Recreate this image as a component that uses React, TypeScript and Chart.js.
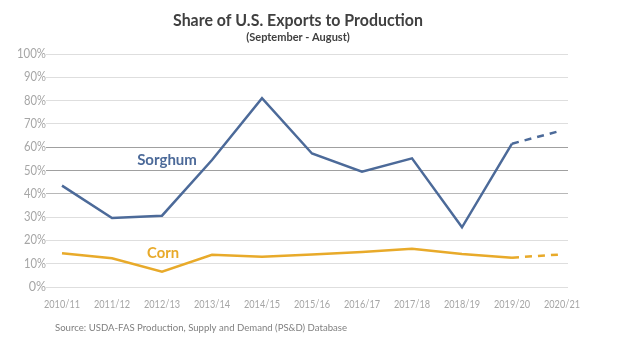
import React, { useEffect, useRef } from "react";
import { Chart, registerables } from "chart.js";

Chart.register(...registerables);

const categories = ["2010/11", "2011/12", "2012/13", "2013/14", "2014/15", "2015/16", "2016/17", "2017/18", "2018/19", "2019/20", "2020/21"];
const sorghum = [43.5, 29.6, 30.6, 54.5, 81.0, 57.3, 49.5, 55.2, 25.6, 61.5, 67.2];
const corn = [14.5, 12.3, 6.6, 13.8, 13.0, 13.9, 15.0, 16.4, 14.2, 12.6, 14.0];
const yTicks = [0, 10, 20, 30, 40, 50, 60, 70, 80, 90, 100];
const titleText = "Share of U.S. Exports to Production";
const subtitleText = "(September - August)";
const sourceText = "Source: USDA-FAS Production, Supply and Demand (PS&D) Database";
const FONT = "Lato, 'Open Sans', 'DejaVu Sans', sans-serif";

const SORGHUM_COLOR = "#4c6a99";
const CORN_COLOR = "#e8aa2a";
const TICK_COLOR = "#a6a6a6";

function drawFitted(ctx: CanvasRenderingContext2D, text: string, font: string, color: string, x: number, y: number, maxW: number, align: "center" | "left" | "right") {
  ctx.save();
  ctx.font = font;
  ctx.fillStyle = color;
  ctx.textBaseline = "middle";
  const w = ctx.measureText(text).width;
  const s = w > maxW ? maxW / w : 1;
  ctx.translate(x, y);
  ctx.scale(s, 1);
  ctx.textAlign = align;
  ctx.fillText(text, 0, 0);
  ctx.restore();
}

const textPlugin = {
  id: "textPlugin",
  afterDraw(chart: any) {
    const ctx = chart.ctx as CanvasRenderingContext2D;
    const xs = chart.scales.x;
    const ys = chart.scales.y;
    const area = chart.chartArea;
    drawFitted(ctx, titleText, `bold 17px ${FONT}`, "#404040", 298, 21, 250, "center");
    drawFitted(ctx, subtitleText, `bold 11px ${FONT}`, "#404040", 298, 37, 106, "center");
    drawFitted(ctx, sourceText, `10px ${FONT}`, "#7f7f7f", 55, 328, 292, "left");
    categories.forEach((c, i) => {
      drawFitted(ctx, c, `11px ${FONT}`, TICK_COLOR, xs.getPixelForValue(i), area.bottom + 17, 36, "center");
    });
    yTicks.forEach((v) => {
      drawFitted(ctx, `${v}%`, `12.5px ${FONT}`, TICK_COLOR, area.left, ys.getPixelForValue(v), v === 100 ? 29 : 22, "right");
    });
    drawFitted(ctx, "Sorghum", `bold 15px ${FONT}`, SORGHUM_COLOR, xs.getPixelForValue(2.1), ys.getPixelForValue(54.3), 60, "center");
    drawFitted(ctx, "Corn", `bold 15px ${FONT}`, CORN_COLOR, xs.getPixelForValue(2.02), ys.getPixelForValue(14.7), 32, "center");
  },
};

const dashLast = (ctx: any) => (ctx.p0DataIndex >= categories.length - 2 ? [7, 6] : undefined);

export default function App() {
  const ref = useRef<HTMLCanvasElement>(null);
  useEffect(() => {
    document.body.style.margin = "0";
    const chart = new Chart(ref.current!, {
      type: "line",
      data: {
        datasets: [
          {
            label: "Sorghum",
            data: sorghum.map((v, i) => ({ x: i, y: v })),
            borderColor: SORGHUM_COLOR,
            borderWidth: 2.5,
            pointRadius: 0,
            tension: 0,
            segment: { borderDash: dashLast },
          },
          {
            label: "Corn",
            data: corn.map((v, i) => ({ x: i, y: v })),
            borderColor: CORN_COLOR,
            borderWidth: 2.5,
            pointRadius: 0,
            tension: 0,
            segment: { borderDash: dashLast },
          },
        ],
      },
      options: {
        animation: false,
        responsive: false,
        layout: { padding: { left: 6, right: 49, top: 54, bottom: 39 } },
        plugins: { legend: { display: false }, tooltip: { enabled: false } },
        scales: {
          x: {
            type: "linear",
            min: -0.32,
            max: 10.12,
            afterBuildTicks: (scale: any) => {
              scale.ticks = categories.map((_, i) => ({ value: i }));
            },
            afterFit: (scale: any) => {
              scale.height = 24;
            },
            grid: { display: false },
            border: { display: false },
            ticks: { display: false },
          },
          y: {
            min: 0,
            max: 100,
            afterBuildTicks: (scale: any) => {
              scale.ticks = yTicks.map((v) => ({ value: v }));
            },
            afterFit: (scale: any) => {
              scale.width = 40;
            },
            border: { display: false },
            grid: {
              drawTicks: false,
              lineWidth: 1,
              color: (c: any) => {
                const v = c.tick && c.tick.value;
                if (v === 50 || v === 60) return "#a0a0a0";
                if (v === 40) return "#b8b8b8";
                return "#dedede";
              },
            },
            ticks: { display: false },
          },
        },
      },
      plugins: [textPlugin],
    } as any);
    return () => chart.destroy();
  }, []);
  return (
    <div style={{ position: "absolute", left: 0, top: 0, width: 617, height: 350, background: "#fff" }}>
      <canvas ref={ref} width={617} height={350} />
    </div>
  );
}
